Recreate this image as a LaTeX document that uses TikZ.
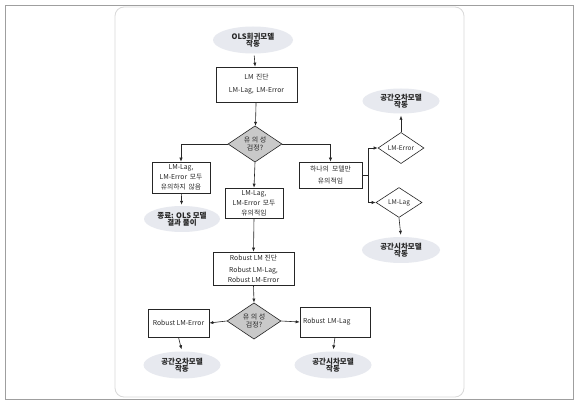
\documentclass[tikz,border=0pt]{standalone}
\usepackage{fontspec}
\setmainfont{Noto Sans CJK KR}
\usetikzlibrary{shapes.geometric,arrows.meta,calc}
\definecolor{ellfill}{HTML}{E7E9EF}
\definecolor{dfill}{HTML}{C9C9C9}
\definecolor{ink}{HTML}{262626}
\tikzset{
  boxtxt/.style={font=\fontsize{6.8}{10}\selectfont, text=ink},
  pbox/.style={boxtxt, draw=ink, line width=0.6pt, rectangle, inner sep=1pt, align=center},
  oval/.style={ellipse, fill=ellfill, inner sep=0pt, align=center, text=ink,
    font=\fontsize{7.5}{7.5}\selectfont\bfseries},
  gdia/.style={diamond, draw=ink, line width=0.6pt, fill=dfill, inner sep=0pt, align=center,
    font=\fontsize{7}{7.5}\selectfont, text=ink},
  wdia/.style={diamond, draw=ink, line width=0.6pt, fill=white, inner sep=0pt, align=center,
    font=\fontsize{6.5}{7}\selectfont, text=ink},
  conn/.style={draw=ink, line width=0.6pt, -{Latex[length=4pt,width=3.2pt]}},
  plain/.style={draw=ink, line width=0.6pt}
}
\begin{document}
\begin{tikzpicture}[x=1pt,y=-1pt]
\useasboundingbox (0,0) rectangle (582,409);
\fill[white] (0,0) rectangle (582,409);
\draw[gray!75, line width=0.9pt] (5,5) rectangle (573,399);
\draw[gray!30, line width=0.8pt, rounded corners=9pt] (115,7) rectangle (464,397);

% nodes
\node[oval, minimum width=80, minimum height=27] (ols) at (253,40) {OLS회귀모델\\[-1pt]작동};
\node[pbox, minimum width=81, minimum height=35] (lm) at (256.5,84.5) {LM \,진단\\[3pt]LM-Lag, \,LM-Error};
\node[gdia, minimum width=54, minimum height=36] (d1) at (255,144) {유 의 성\\검정?};
\node[pbox, minimum width=58, minimum height=31] (nb) at (181,177.5) {LM-Lag,\\LM-Error \,모두\\유의하지 \,않음};
\node[oval, minimum width=76, minimum height=26] (end) at (182,219) {종료: OLS 모델\\[-1pt]결과 풀이};
\node[pbox, minimum width=58, minimum height=30] (mid) at (254,203) {LM-Lag,\\LM-Error \,모두\\유의적임};
\node[pbox, minimum width=63, minimum height=26] (one) at (330.5,175) {하나의 \ 모델만\\[2pt]유의적임};
\node[wdia, minimum width=46, minimum height=30] (de) at (401,148) {LM-Error};
\node[wdia, minimum width=46, minimum height=30] (dl) at (399,202.5) {LM-Lag};
\node[oval, minimum width=77, minimum height=25] (se) at (401,101) {공간오차모델\\[-1pt]작동};
\node[oval, minimum width=78, minimum height=26] (sl) at (401,250) {공간시차모델\\[-1pt]작동};
\node[pbox, minimum width=81, minimum height=33] (rb) at (253.5,268.5) {Robust LM 진단\\[2pt]Robust LM-Lag,\\Robust LM-Error};
\node[gdia, minimum width=54, minimum height=36] (d2) at (254,321) {유 의 성\\검정?};
\node[pbox, minimum width=61, minimum height=28] (rle) at (178.5,323) {Robust LM-Error};
\node[pbox, minimum width=70, minimum height=30, text width=64, align=left] (rll) at (335,322) {Robust LM-Lag\\[5pt]};
\node[oval, minimum width=77, minimum height=27] (e3) at (182,365) {공간오차모델\\[-1pt]작동};
\node[oval, minimum width=77, minimum height=27] (e4) at (333,365) {공간시차모델\\[-1pt]작동};

% connectors
\draw[conn, shorten <=2pt] (ols) -- (lm);
\draw[conn] (lm) -- (d1);
\draw[conn] (d1.west) -| (nb.north);
\draw[conn, shorten >=1pt] (nb) -- (end);
\draw[conn] (d1.south) -- (mid.north);
\draw[conn] (d1.east) -| (one.north);
\draw[plain] (one.east) -- ++(6,0) coordinate (j);
\draw[conn] (j) |- (de.west);
\draw[conn] (j) |- (dl.west);
\draw[conn, shorten >=2pt] (de.north) -- (se.south);
\draw[conn, shorten >=2pt] (dl.south) -- (sl.north);
\draw[conn] (mid.south) -- (rb.north);
\draw[conn] (rb.south) -- (d2.north);
\draw[conn] (d2.west) -- (rle.east);
\draw[conn] (d2.east) -- (rll.west);
\draw[conn, shorten >=2pt] (rle.south) -- (e3.north);
\draw[conn, shorten >=2pt] (rll.south) -- (e4.north);
\end{tikzpicture}
\end{document}
